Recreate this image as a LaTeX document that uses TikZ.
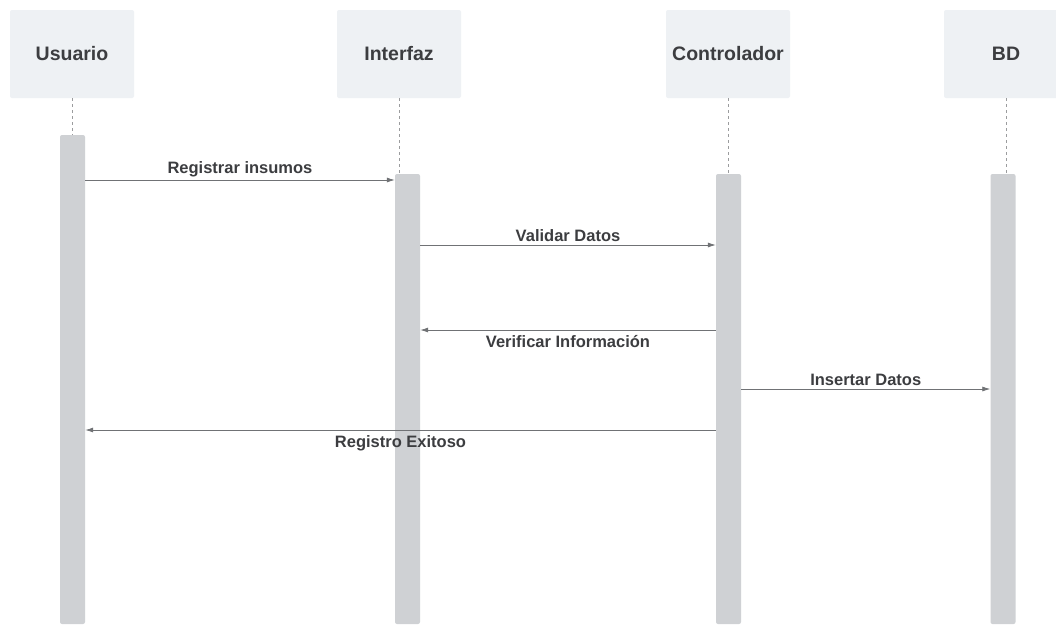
\documentclass[tikz,border=0pt]{standalone}
\usepackage{fontspec}
\setmainfont{Liberation Sans}
\usetikzlibrary{arrows.meta}
\definecolor{headfill}{HTML}{EEF1F4}
\definecolor{barfill}{HTML}{CFD1D4}
\definecolor{txtgray}{HTML}{3C3D40}
\definecolor{linegray}{HTML}{707275}
\begin{document}
\begin{tikzpicture}[x=1pt, y=-1pt,
  headnode/.style={rectangle, fill=headfill, rounded corners=2pt, minimum width=124pt, minimum height=88pt, text=txtgray, font=\fontsize{19.5}{22}\selectfont\bfseries},
  barnode/.style={rectangle, fill=barfill, rounded corners=2pt, inner sep=0pt, minimum width=25pt},
  lifeline/.style={draw=linegray!70, dashed, line width=0.6pt},
  msg/.style={draw=linegray, line width=0.8pt, -{Latex[length=8pt, width=5pt]}},
  msgtext/.style={text=txtgray, font=\fontsize{16.5}{18}\selectfont\bfseries, inner sep=3pt}]
  \clip (0,0) rectangle (1056,624);
  \fill[white] (0,0) rectangle (1056,624);
  % Headers
  \node[headnode] at (72,54) (usr) {Usuario};
  \node[headnode] at (399,54) (inf) {Interfaz};
  \node[headnode] at (728,54) (ctl) {Controlador};
  \node[headnode] at (1006,54) (bd) {BD};
  % Bars
  \node[barnode, minimum height=489pt] at (72.5,379.5) (busr) {};
  \node[barnode, minimum height=450pt] at (407.5,399) (binf) {};
  \node[barnode, minimum height=450pt] at (728.5,399) (bctl) {};
  \node[barnode, minimum height=450pt] at (1003,399) (bbd) {};
  % Lifelines
  \draw[lifeline] (usr.south) -- (usr.south |- busr.north);
  \draw[lifeline] (inf.south) -- (inf.south |- binf.north);
  \draw[lifeline] (ctl.south) -- (ctl.south |- bctl.north);
  \draw[lifeline] (bd.south) -- (bd.south |- bbd.north);
  % Messages
  \coordinate (m1) at (0,180);
  \coordinate (m2) at (0,245);
  \coordinate (m3) at (0,330);
  \coordinate (m4) at (0,389);
  \coordinate (m5) at (0,430);
  \draw[msg] (busr.east |- m1) -- (binf.west |- m1) node[midway, above, msgtext] {Registrar insumos};
  \draw[msg] (binf.east |- m2) -- (bctl.west |- m2) node[midway, above, msgtext] {Validar Datos};
  \draw[msg] (bctl.west |- m3) -- (binf.east |- m3) node[midway, below=2pt, msgtext] {Verificar Información};
  \draw[msg] (bctl.east |- m4) -- (bbd.west |- m4) node[midway, above, msgtext] {Insertar Datos};
  \draw[msg] (bctl.west |- m5) -- (busr.east |- m5) node[midway, below=2pt, msgtext] {Registro Exitoso};
\end{tikzpicture}
\end{document}
